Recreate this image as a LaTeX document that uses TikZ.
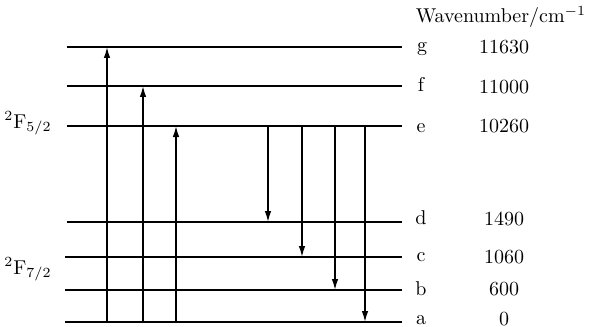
\documentclass[tikz,border=0pt]{standalone}
\usetikzlibrary{arrows.meta}
\begin{document}
\begin{tikzpicture}[x=0.5pt,y=-0.5pt,
  level/.style={line width=0.75pt},
  trans/.style={line width=0.75pt,-{Latex[length=5.5pt,width=3.3pt]}},
  lab/.style={inner sep=0pt,anchor=base}]
\useasboundingbox (0,0) rectangle (593,326);
% levels
\foreach \n/\y/\xl in {g/47/67,f/86/67,e/126/67,d/222/67,c/257/65,b/290/65,a/322/65}{
  \coordinate (\n L) at (\xl,\y);
  \coordinate (\n R) at (402,\y);
  \draw[level] (\n L) -- (\n R);
}
% coordinates for arrows
\foreach \x/\i in {107/1,143/2,176/3,268/4,302/5,335/6,365/7}{
  \foreach \n/\y in {g/47,f/86,e/126,d/222,c/257,b/290,a/322}{
    \coordinate (\n\i) at (\x,\y);
  }
}
\draw[trans] (a1) -- (g1);
\draw[trans] (a2) -- (f2);
\draw[trans] (a3) -- (e3);
\draw[trans] (e4) -- (d4);
\draw[trans] (e5) -- (c5);
\draw[trans] (e6) -- (b6);
\draw[trans] (e7) -- (a7);
% labels
\node[lab] (tg) at (422,52) {g};
\node[lab] (tf) at (421,91) {f};
\node[lab] (te) at (421,132) {e};
\node[lab] (td) at (421,224) {d};
\node[lab] (tc) at (421,261) {c};
\node[lab] (tb) at (421,295) {b};
\node[lab] (ta) at (421,324) {a};
\node[lab] (vg) at (504,54) {11630};
\node[lab] (vf) at (504,93) {11000};
\node[lab] (ve) at (504,133) {10260};
\node[lab] (vd) at (504,225) {1490};
\node[lab] (vc) at (504,263) {1060};
\node[lab] (vb) at (504,295) {600};
\node[lab] (va) at (504,325) {0};
\node[lab] (wn) at (501,23) {Wavenumber/cm$^{-1}$};
\node[lab] (s52) at (28,128) {$^2$F$_{5/2}$};
\node[lab] (s72) at (28,274) {$^2$F$_{7/2}$};
\end{tikzpicture}
\end{document}
